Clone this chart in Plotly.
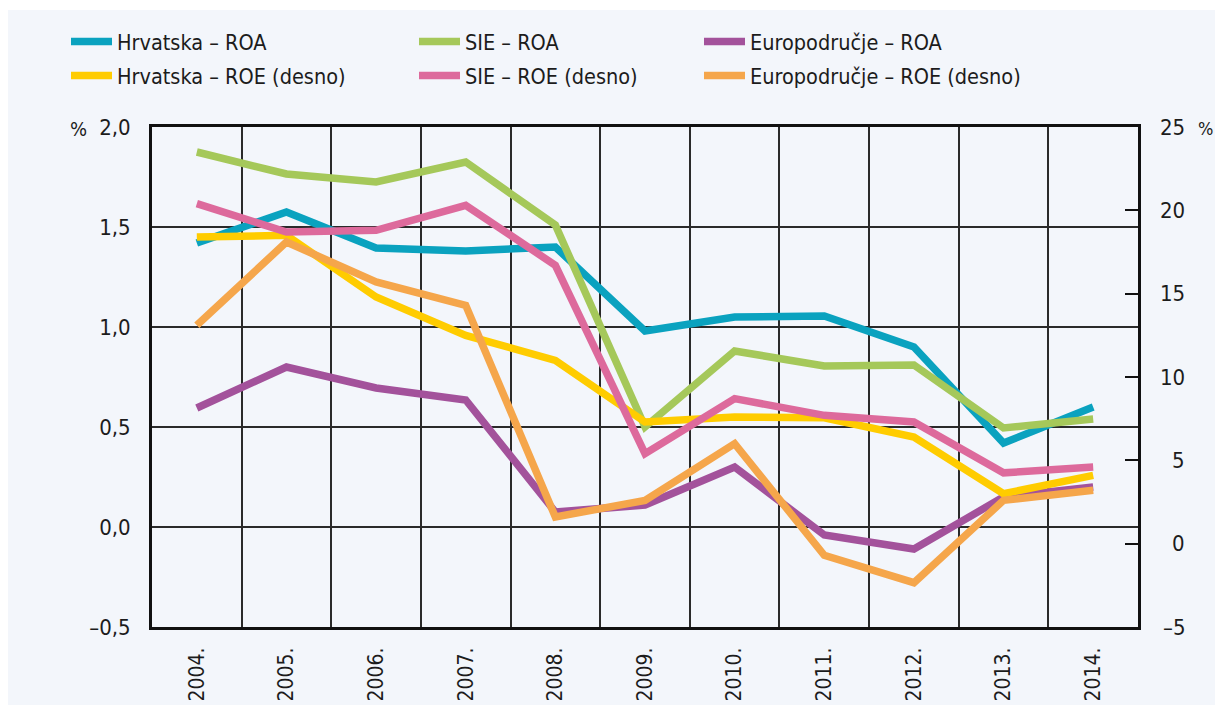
import plotly.graph_objects as go

years = ["2004.", "2005.", "2006.", "2007.", "2008.", "2009.", "2010.", "2011.", "2012.", "2013.", "2014."]

hr_roa = [1.42, 1.575, 1.395, 1.38, 1.40, 0.98, 1.05, 1.055, 0.90, 0.42, 0.60]
sie_roa = [1.875, 1.765, 1.725, 1.825, 1.51, 0.50, 0.88, 0.805, 0.81, 0.495, 0.54]
ea_roa = [0.595, 0.80, 0.695, 0.635, 0.075, 0.11, 0.30, -0.04, -0.11, 0.15, 0.20]
hr_roe = [18.4, 18.5, 14.8, 12.5, 11.0, 7.3, 7.6, 7.55, 6.4, 3.0, 4.1]
sie_roe = [20.4, 18.7, 18.8, 20.3, 16.7, 5.4, 8.7, 7.7, 7.3, 4.25, 4.6]
ea_roe = [13.1, 18.1, 15.7, 14.3, 1.6, 2.6, 6.0, -0.7, -2.34, 2.6, 3.2]

left_ticks = [-0.5, 0.0, 0.5, 1.0, 1.5, 2.0]
left_labels = ["–0,5", "0,0", "0,5", "1,0", "1,5", "2,0"]
right_ticks = [-5, 0, 5, 10, 15, 20, 25]
right_labels = ["–5", "0", "5", "10", "15", "20", "25"]

FONT = "DejaVu Sans Condensed, Liberation Sans Narrow, Arial Narrow, sans-serif"
TXT = "#1c1c1c"
BG = "#F3F6FB"
W = 7.5

# name, values, colour, axis, legend column (page x), legend row (page y of top)
series = [
    ("Hrvatska – ROA", hr_roa, "#0AA2BF", "y", 66, 21),
    ("SIE – ROA", sie_roa, "#A5C85A", "y", 414, 21),
    ("Europodručje – ROA", ea_roa, "#A3529B", "y", 699, 21),
    ("Hrvatska – ROE (desno)", hr_roe, "#FFCC00", "y2", 66, 55),
    ("SIE – ROE (desno)", sie_roe, "#DD6A9C", "y2", 414, 55),
    ("Europodručje – ROE (desno)", ea_roe, "#F5A64B", "y2", 699, 55),
]

# figure sits at (8, 8) in the page because of the default body margin
OFF = 8
FW, FH = 1223 - 2 * OFF, 713 - 2 * OFF
PL, PT = 152 - OFF, 127 - OFF
PR = FW - (1138 - OFF)
PB = FH - (627 - OFF)
PW = FW - PL - PR
PH = FH - PT - PB

def px_x(p):  # p: page pixel
    return (p - OFF - PL) / PW

def px_y(p):
    return 1 + (PT - (p - OFF)) / PH

fig = go.Figure()
legends = {}
for i, (name, vals, col, ax, lx, ly) in enumerate(series):
    key = "legend" if i == 0 else f"legend{i + 1}"
    fig.add_trace(go.Scatter(
        x=years, y=vals, name=name, mode="lines", yaxis=ax, legend=key,
        line=dict(color=col, width=W),
    ))
    legends[key] = dict(
        x=px_x(lx), y=px_y(ly),
        font=dict(family=FONT, size=21.5, color=TXT),
        bgcolor="rgba(0,0,0,0)", borderwidth=0,
        orientation="v", yanchor="top", xanchor="left", itemwidth=41,
    )

fig.update_layout(
    width=FW, height=FH,
    margin=dict(l=PL, r=PR, t=PT, b=PB, pad=0, autoexpand=False),
    paper_bgcolor=BG, plot_bgcolor=BG,
    separators=", ",
    font=dict(family=FONT, size=22, color=TXT),
    xaxis=dict(
        type="category", range=[-0.5, 10.5], tickson="boundaries",
        ticks="", showgrid=True, gridcolor="#2a2a2a", gridwidth=1.6,
        showline=True, linecolor="#111111", linewidth=3, mirror=True,
        tickangle=-90, ticklabelstandoff=9, automargin=False,
        tickfont=dict(family=FONT, size=21, color=TXT),
        zeroline=False,
    ),
    yaxis=dict(
        range=[-0.5, 2.0], tickvals=left_ticks, ticktext=left_labels,
        ticks="", showgrid=True, gridcolor="#2a2a2a", gridwidth=1.6,
        showline=True, linecolor="#111111", linewidth=3, mirror=True,
        zeroline=False, ticklabelstandoff=14, automargin=False,
        tickfont=dict(family=FONT, size=22, color=TXT),
    ),
    yaxis2=dict(
        range=[-5, 25], tickvals=right_ticks, overlaying="y", side="right",
        ticks="inside", ticklen=13, tickwidth=2, tickcolor="#111111",
        showticklabels=False, showgrid=False, zeroline=False, showline=False,
        automargin=False,
    ),
    showlegend=True,
    **legends,
)

for v, t in zip(right_ticks, right_labels):
    fig.add_annotation(x=px_x(1187), y=v, xref="paper", yref="y2", text=t,
                       showarrow=False, xanchor="right", yanchor="middle",
                       font=dict(family=FONT, size=22, color=TXT))

fig.add_annotation(x=px_x(89), y=px_y(129), xref="paper", yref="paper", text="%",
                   showarrow=False, xanchor="right", yanchor="middle",
                   font=dict(family=FONT, size=20, color=TXT))
fig.add_annotation(x=px_x(1196), y=px_y(128), xref="paper", yref="paper", text="%",
                   showarrow=False, xanchor="left", yanchor="middle",
                   font=dict(family=FONT, size=18, color=TXT))

# thin white strip at the very top of the picture
fig.add_shape(type="rect", xref="paper", yref="paper",
              x0=px_x(0), x1=px_x(1230), y0=px_y(10), y1=px_y(0),
              fillcolor="white", line_width=0, layer="below")

fig.write_html("out.html")
